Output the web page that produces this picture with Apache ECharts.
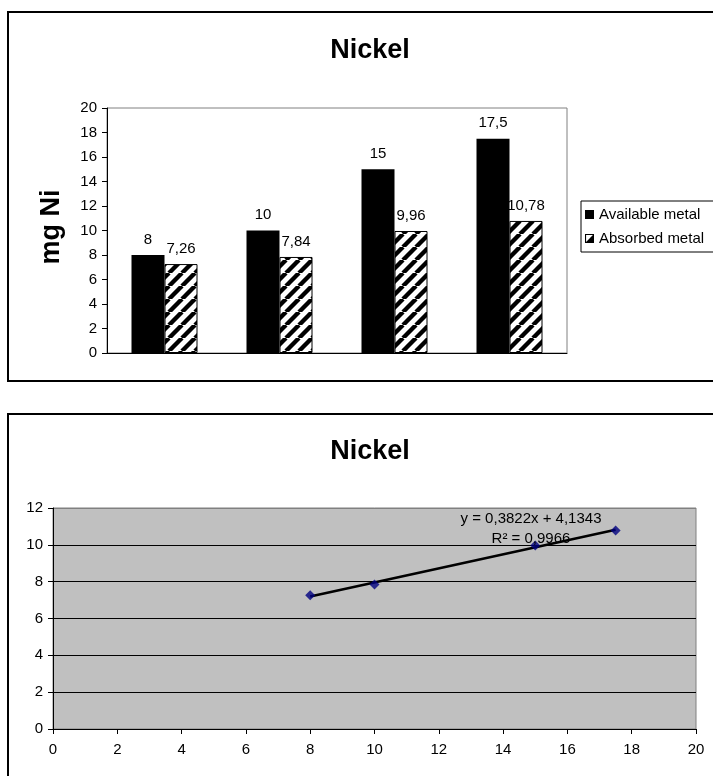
<!DOCTYPE html>
<html>
<head>
<meta charset="utf-8">
<script src="https://cdn.jsdelivr.net/npm/echarts@6/dist/echarts.min.js"></script>
<style>
html,body{margin:0;padding:0;background:#fff;}
#c{width:713px;height:776px;}
</style>
</head>
<body>
<div id="c"></div>
<script>
// ---- data ----
var titleText = 'Nickel';
var yAxisTitle = 'mg Ni';
var categories = ['1', '2', '3', '4'];
var availableMetal = [8, 10, 15, 17.5];
var absorbedMetal = [7.26, 7.84, 9.96, 10.78];
var seriesNames = ['Available metal', 'Absorbed metal'];
var scatterX = [8, 10, 15, 17.5];
var scatterY = [7.26, 7.84, 9.96, 10.78];
var trendX = [8, 17.5];
var trendY = [7.19, 10.82];
var equationText = 'y = 0,3822x + 4,1343';
var r2Text = 'R\u00B2 = 0,9966';

var FONT = "'Liberation Sans', Arial, sans-serif";

function fmt(v) { return String(v).replace('.', ','); }

// hatch pattern
var P = 13;
var pc = document.createElement('canvas');
pc.width = P; pc.height = P;
var ctx = pc.getContext('2d');
ctx.fillStyle = '#fff'; ctx.fillRect(0, 0, P, P);
ctx.strokeStyle = '#000'; ctx.lineWidth = 4.4;
[-P, 0, P].forEach(function (k) {
  ctx.beginPath(); ctx.moveTo(k, P); ctx.lineTo(k + P, 0); ctx.stroke();
});

var chart = echarts.init(document.getElementById('c'), null, {renderer: 'canvas'});

var labelStyle = {show: true, position: 'top', distance: 8, color: '#000', fontFamily: FONT, fontSize: 15,
  formatter: function (p) { return fmt(p.value); }};

var option = {
  animation: false,
  backgroundColor: '#fff',
  textStyle: {fontFamily: FONT},
  title: [
    {text: titleText, left: 365, top: 32, textAlign: 'center',
     textStyle: {fontFamily: FONT, fontSize: 27, fontWeight: 'bold', color: '#000'}},
    {text: titleText, left: 365, top: 433, textAlign: 'center',
     textStyle: {fontFamily: FONT, fontSize: 27, fontWeight: 'bold', color: '#000'}}
  ],
  legend: {
    orient: 'vertical', left: 581, top: 201,
    itemWidth: 9, itemHeight: 9, itemGap: 9,
    padding: [6, 20, 6, 4],
    borderColor: '#000', borderWidth: 1,
    textStyle: {fontFamily: FONT, fontSize: 15, color: '#000'},
    data: [
      {name: seriesNames[0], icon: 'rect', itemStyle: {color: '#000'}},
      {name: seriesNames[1], icon: 'path://M0,0L10,0L10,10L0,10Z M1.2,1.2L1.2,8.8L8.8,8.8L8.8,1.2Z M8.8,1.2L8.8,8.8L1.2,8.8Z',
       itemStyle: {color: '#000', borderWidth: 0}}
    ]
  },
  grid: [
    {left: 107, top: 108, width: 460, height: 245, show: true, backgroundColor: '#fff',
     borderColor: '#808080', borderWidth: 1},
    {left: 53, top: 508, width: 643, height: 221, show: true, backgroundColor: '#C0C0C0',
     borderColor: '#808080', borderWidth: 1}
  ],
  xAxis: [
    {type: 'category', gridIndex: 0, data: categories,
     axisLine: {lineStyle: {color: '#000', width: 1}}, axisTick: {show: false}, axisLabel: {show: false}},
    {type: 'value', gridIndex: 1, min: 0, max: 20, interval: 2,
     axisLine: {onZero: false, lineStyle: {color: '#000', width: 1}},
     axisTick: {show: true, length: 5, lineStyle: {color: '#000'}},
     axisLabel: {color: '#000', fontSize: 15, fontFamily: FONT, margin: 13},
     splitLine: {show: false}}
  ],
  yAxis: [
    {type: 'value', gridIndex: 0, min: 0, max: 20, interval: 2,
     axisLine: {show: true, lineStyle: {color: '#000', width: 1}},
     axisTick: {show: true, length: 5, lineStyle: {color: '#000'}},
     axisLabel: {color: '#000', fontSize: 15, fontFamily: FONT, margin: 10},
     splitLine: {show: false}},
    {type: 'value', gridIndex: 1, min: 0, max: 12, interval: 2,
     axisLine: {show: true, onZero: false, lineStyle: {color: '#000', width: 1}},
     axisTick: {show: true, length: 5, lineStyle: {color: '#000'}},
     axisLabel: {color: '#000', fontSize: 15, fontFamily: FONT, margin: 10},
     splitLine: {show: true, lineStyle: {color: ['#000', '#000', '#000', '#000', '#000', '#000', '#808080'], width: 1.2}}}
  ],
  graphic: [
    {type: 'rect', shape: {x: 8, y: 12, width: 720, height: 369}, style: {fill: 'none', stroke: '#000', lineWidth: 2}, z: 100},
    {type: 'rect', shape: {x: 8, y: 414, width: 720, height: 400}, style: {fill: 'none', stroke: '#000', lineWidth: 2}, z: 100},
    {type: 'text', x: 52, y: 227, rotation: Math.PI / 2, z: 100,
     style: {text: yAxisTitle, font: 'bold 27px ' + FONT, fill: '#000', textAlign: 'center', textVerticalAlign: 'middle'}},
    {type: 'text', x: 531, y: 519, z: 100,
     style: {text: equationText, font: '15px ' + FONT, fill: '#000', textAlign: 'center', textVerticalAlign: 'middle'}},
    {type: 'text', x: 531, y: 539, z: 100,
     style: {text: r2Text, font: '15px ' + FONT, fill: '#000', textAlign: 'center', textVerticalAlign: 'middle'}}
  ],
  series: [
    {name: seriesNames[0], type: 'bar', xAxisIndex: 0, yAxisIndex: 0, data: availableMetal,
     barWidth: 33, barGap: '0%', itemStyle: {color: '#000'}, label: labelStyle},
    {name: seriesNames[1], type: 'bar', xAxisIndex: 0, yAxisIndex: 0, data: absorbedMetal,
     barWidth: 33, barGap: '0%',
     itemStyle: {color: {image: pc, repeat: 'repeat'}, borderColor: '#000', borderWidth: 1},
     label: labelStyle},
    {name: 'trend', type: 'line', xAxisIndex: 1, yAxisIndex: 1,
     data: trendX.map(function (x, i) { return [x, trendY[i]]; }),
     showSymbol: false, symbol: 'none', lineStyle: {color: '#000', width: 2.5}, z: 3},
    {name: 'points', type: 'scatter', xAxisIndex: 1, yAxisIndex: 1,
     data: scatterX.map(function (x, i) { return [x, scatterY[i]]; }),
     symbol: 'diamond', symbolSize: 10, itemStyle: {color: '#000080'}, z: 4}
  ]
};
chart.setOption(option);
</script>
</body>
</html>
